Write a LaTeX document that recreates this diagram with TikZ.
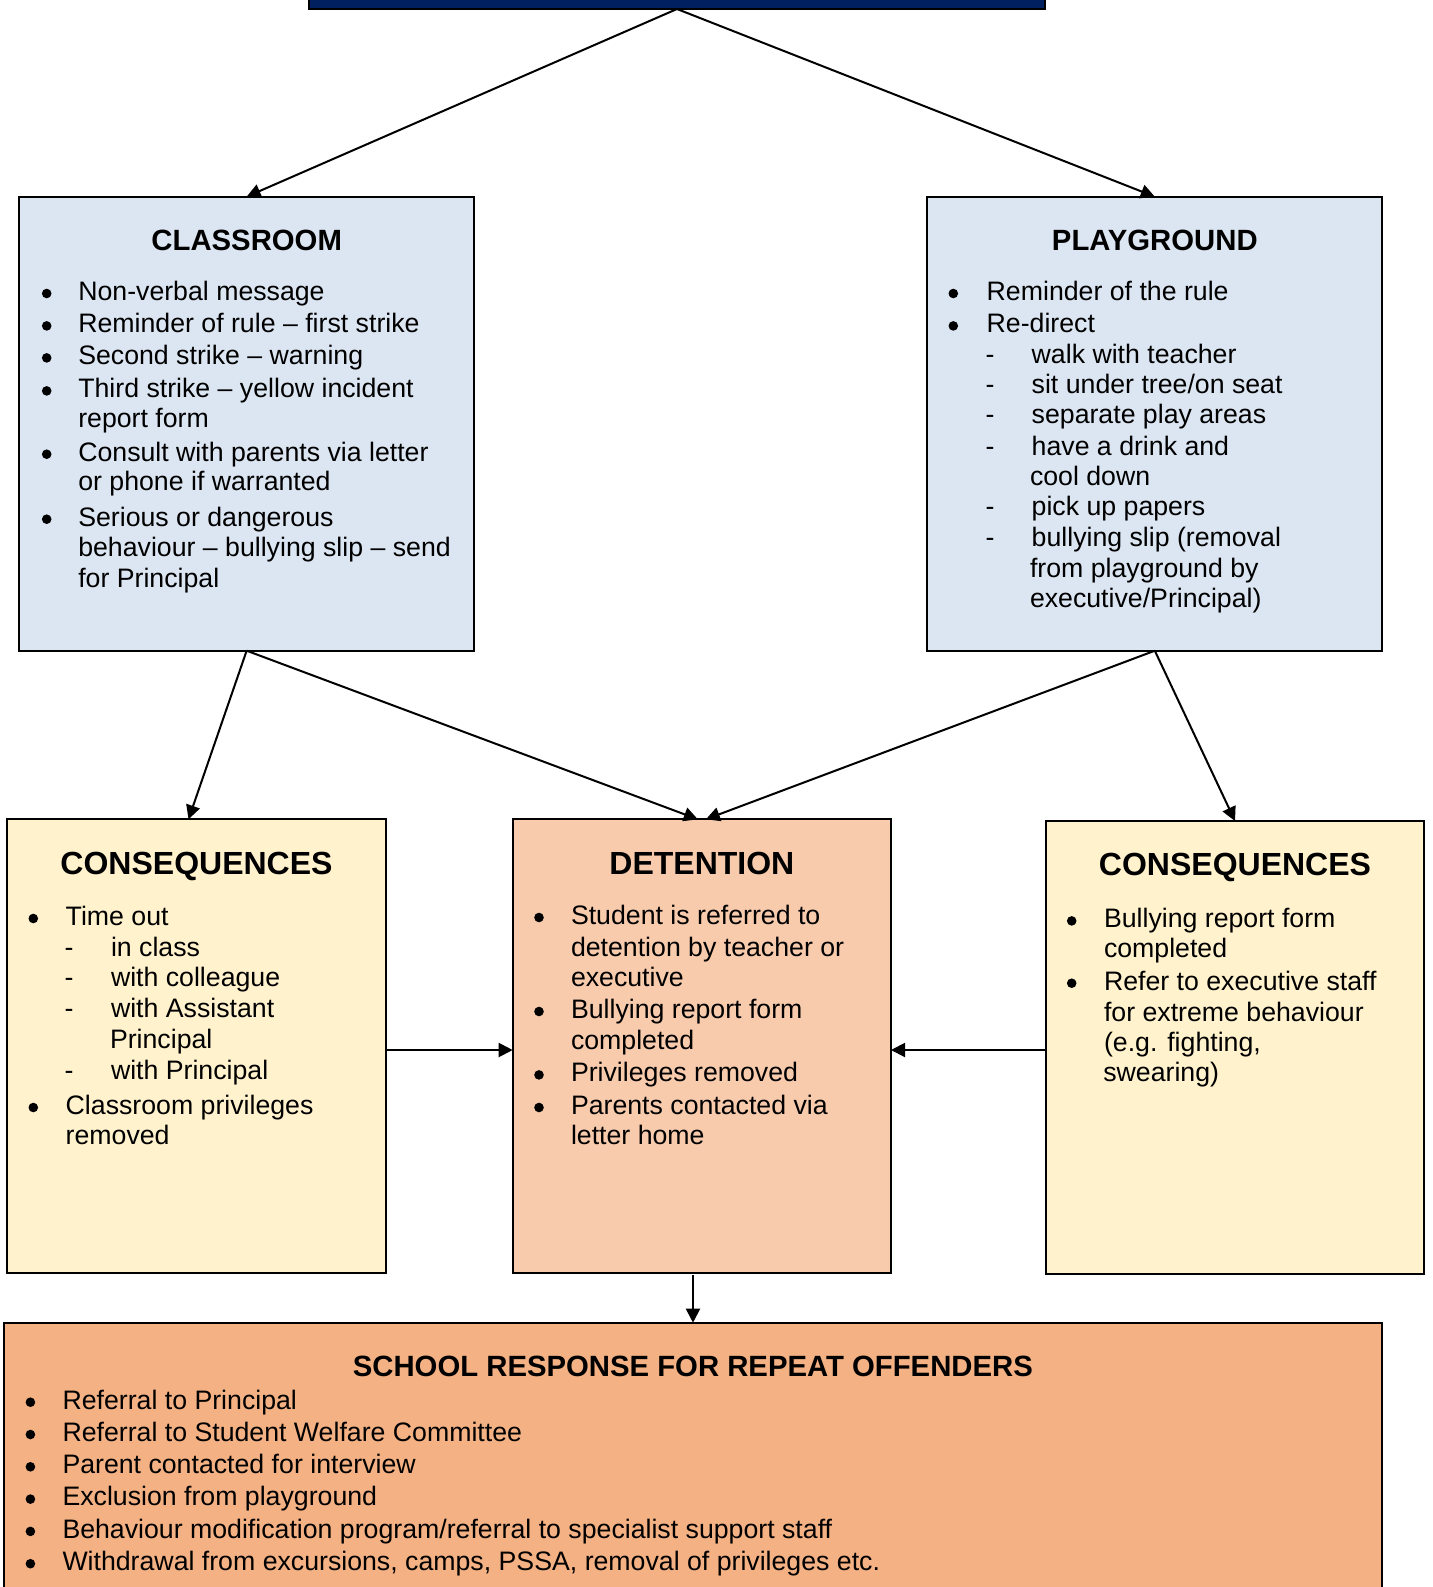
\documentclass[tikz,border=0pt]{standalone}
\usepackage{fontspec}
\setmainfont{Liberation Sans}[Ligatures=CommonOff]
\usetikzlibrary{arrows.meta,calc}
\definecolor{navy}{HTML}{002060}
\definecolor{lblue}{HTML}{DCE6F2}
\definecolor{lyel}{HTML}{FFF2CC}
\definecolor{lorg}{HTML}{F8CBAD}
\definecolor{morg}{HTML}{F4B183}
\newcounter{ln}
\newcommand\tl[3]{\stepcounter{ln}\node[txt,anchor=base west] (ln\arabic{ln}) at (#1,#2+1) {#3};}
\newcommand\bu[2]{\stepcounter{ln}\node[bullet] (ln\arabic{ln}) at (#1,#2-5.8) {};}
\newcommand\hd[4]{\node[#1,anchor=base] (#2) at (#3) {#4};}
\tikzset{
  txt/.style={font=\fontsize{26.7}{30}\selectfont, inner sep=0pt, outer sep=0pt},
  bullet/.style={circle, fill=black, minimum size=9.6pt, inner sep=0pt, outer sep=0pt},
  hsmall/.style={font=\bfseries\fontsize{29.3}{32}\selectfont, inner sep=0pt, outer sep=0pt},
  hbig/.style={font=\bfseries\fontsize{32}{34}\selectfont, inner sep=0pt, outer sep=0pt},
  box/.style={draw=black, line width=2pt, rectangle, inner sep=0pt, outer sep=0pt},
  arr/.style={draw=black, line width=2pt, -{Triangle[length=14pt,width=14pt]}}
}
\begin{document}
\begin{tikzpicture}[x=1pt,y=-1pt]
\useasboundingbox (0,0) rectangle (1432,1587);
\fill[white] (0,0) rectangle (1432,1587);
% boxes
\node[box, fill=navy, minimum width=736pt, minimum height=39pt] (top) at (677,-10.5) {};
\node[box, fill=lblue, minimum width=454.7pt, minimum height=454pt] (class) at (246.65,423.7) {};
\node[box, fill=lblue, minimum width=455pt, minimum height=454pt] (play) at (1154.8,423.7) {};
\node[box, fill=lyel, minimum width=378.4pt, minimum height=453.4pt] (consL) at (196.5,1046) {};
\node[box, fill=lorg, minimum width=378.3pt, minimum height=453.4pt] (det) at (701.85,1046) {};
\node[box, fill=lyel, minimum width=378.6pt, minimum height=453pt] (consR) at (1235,1047.5) {};
\node[box, fill=morg, minimum width=1377.7pt, minimum height=297.3pt] (resp) at (692.85,1471.35) {};
% connectors
\coordinate (midy) at (0,1050);
\coordinate (dd) at (693,1275);
\draw[arr] (top.south) -- (class.north);
\draw[arr] (top.south) -- (play.north);
\draw[arr] (class.south) -- ([xshift=-8pt]consL.north);
\draw[arr] (class.south) -- ([xshift=-4pt]det.north);
\draw[arr] (play.south) -- ([xshift=4pt]det.north);
\draw[arr] (play.south) -- (consR.north);
\draw[arr] (consL.east |- midy) -- (det.west |- midy);
\draw[arr] (consR.west |- midy) -- (det.east |- midy);
\draw[arr] (dd) -- (dd |- resp.north);
% CLASSROOM
\hd{hsmall}{hclass}{246.7,250.7}{CLASSROOM}
\bu{46.7}{299.3}\tl{78.3}{299.3}{Non-verbal message}
\bu{46.7}{331.7}\tl{78.3}{331.7}{Reminder of rule – first strike}
\bu{46.7}{363.7}\tl{78.3}{363.7}{Second strike – warning}
\bu{46.7}{396.7}\tl{78.3}{396.7}{Third strike – yellow incident}
\tl{78.3}{426.7}{report form}
\bu{46.7}{460}\tl{78.3}{460}{Consult with parents via letter}
\tl{78.3}{489.3}{or phone if warranted}
\bu{46.7}{525}\tl{78.3}{525}{Serious or dangerous}
\tl{78.3}{555.7}{behaviour – bullying slip – send}
\tl{78.3}{586}{for Principal}
% PLAYGROUND
\hd{hsmall}{hplay}{1154.8,250}{PLAYGROUND}
\bu{953.3}{299.3}\tl{986.7}{299.3}{Reminder of the rule}
\bu{953.3}{331.7}\tl{986.7}{331.7}{Re-direct}
\tl{985.5}{362.3}{-}\tl{1031.7}{362.3}{walk with teacher}
\tl{985.5}{392.7}{-}\tl{1031.7}{392.7}{sit under tree/on seat}
\tl{985.5}{422.7}{-}\tl{1031.7}{422.7}{separate play areas}
\tl{985.5}{454.3}{-}\tl{1031.7}{454.3}{have a drink and}
\tl{1030}{484}{cool down}
\tl{985.5}{514.3}{-}\tl{1031.7}{514.3}{pick up papers}
\tl{985.5}{545.7}{-}\tl{1031.7}{545.7}{bullying slip (removal}
\tl{1030}{576.7}{from playground by}
\tl{1030}{606.7}{executive/Principal)}
% CONSEQUENCES left
\hd{hbig}{hconsL}{196.5,874}{CONSEQUENCES}
\bu{33.3}{924.3}\tl{65.7}{924.3}{Time out}
\tl{64.5}{955}{-}\tl{111}{955}{in class}
\tl{64.5}{985.7}{-}\tl{111}{985.7}{with colleague}
\tl{64.5}{1016.7}{-}\tl{111}{1016.7}{with Assistant}
\tl{110}{1047.7}{Principal}
\tl{64.5}{1078.3}{-}\tl{111}{1078.3}{with Principal}
\bu{33.3}{1113.3}\tl{65.7}{1113.3}{Classroom privileges}
\tl{65.7}{1143.3}{removed}
% DETENTION
\hd{hbig}{hdet}{701.85,874.3}{DETENTION}
\bu{539}{923.3}\tl{571}{923.3}{Student is referred to}
\tl{571}{955}{detention by teacher or}
\tl{571}{985}{executive}
\bu{539}{1017.3}\tl{571}{1017.3}{Bullying report form}
\tl{571}{1048.3}{completed}
\bu{539}{1080.7}\tl{571}{1080.7}{Privileges removed}
\bu{539}{1113.3}\tl{571}{1113.3}{Parents contacted via}
\tl{571}{1143.3}{letter home}
% CONSEQUENCES right
\hd{hbig}{hconsR}{1235,875.7}{CONSEQUENCES}
\bu{1071.7}{926.7}\tl{1104}{926.7}{Bullying report form}
\tl{1104}{956.7}{completed}
\bu{1071.7}{989}\tl{1104}{989}{Refer to executive staff}
\tl{1104}{1020}{for extreme behaviour}
\tl{1104}{1050.7}{(e.g. fighting,}
\tl{1103.3}{1080.7}{swearing)}
% SCHOOL RESPONSE
\hd{hsmall}{hresp}{692.85,1376}{SCHOOL RESPONSE FOR REPEAT OFFENDERS}
\bu{30.4}{1408}\tl{62.5}{1408}{Referral to Principal}
\bu{30.4}{1440.3}\tl{62.5}{1440.3}{Referral to Student Welfare Committee}
\bu{30.4}{1472.6}\tl{62.5}{1472.6}{Parent contacted for interview}
\bu{30.4}{1504.9}\tl{62.5}{1504.9}{Exclusion from playground}
\bu{30.4}{1537.2}\tl{62.5}{1537.2}{Behaviour modification program/referral to specialist support staff}
\bu{30.4}{1569.5}\tl{62.5}{1569.5}{Withdrawal from excursions, camps, PSSA, removal of privileges etc.}
\end{tikzpicture}
\end{document}
